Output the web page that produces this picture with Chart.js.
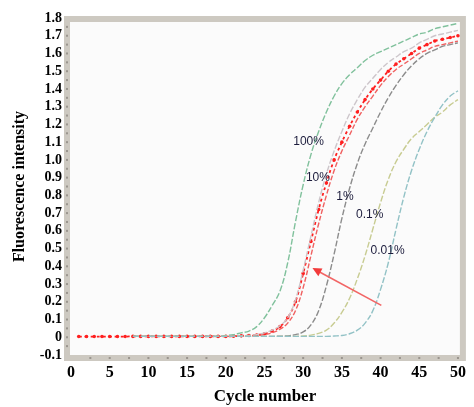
<!DOCTYPE html>
<html>
<head>
<meta charset="utf-8">
<script src="https://cdn.jsdelivr.net/npm/chart.js@4"></script>
<style>
  html, body { margin: 0; padding: 0; background: #fff; }
  #wrap { width: 474px; height: 407px; }
</style>
</head>
<body>
<div id="wrap"><canvas id="qpcrChart" width="474" height="407"></canvas></div>
<script>
// cycle numbers, one value per cycle for each curve
const cycles = [1,2,3,4,5,6,7,8,9,10,11,12,13,14,15,16,17,18,19,20,21,22,23,24,25,
  26,27,28,29,30,31,32,33,34,35,36,37,38,39,40,41,42,43,44,45,46,47,48,49,50];

const s100 = [null,null,null,null,null,null,null,0.005,0.005,0.005,0.005,0.005,0.005,0.005,0.005,0.005,0.005,0.005,0.005,0.01,0.015,0.025,0.035,0.06,0.11,
  0.18,0.26,0.42,0.65,0.86, 1.03,1.16,1.27,1.36,1.43, 1.48,1.52,1.56,1.59,1.61, 1.63,1.65,1.67,1.69,1.71, 1.72,1.74,1.75,1.76,1.77];
const s10rep = [null,null,null,null,null,null,null,0.005,0.005,0.005,0.005,0.005,0.005,0.005,0.005,0.005,0.005,0.005,0.005,0.005,0.006,0.008,0.01,0.015,0.025,
  0.04,0.065,0.11,0.21,0.38, 0.57,0.76,0.92,1.05,1.16, 1.26,1.34,1.41,1.46,1.51, 1.55,1.58,1.61,1.63,1.66, 1.68,1.70,1.71,1.72,1.73];
const s10 = [0.004,0.004,0.004,0.004,0.004,0.004,0.004,0.005,0.005,0.005,0.005,0.005,0.005,0.005,0.005,0.005,0.005,0.005,0.005,0.005,0.006,0.008,0.010,0.013,0.02,
  0.035,0.06,0.11,0.20,0.36, 0.54,0.72,0.87,1.00,1.10, 1.19,1.27,1.34,1.40,1.45, 1.50,1.54,1.57,1.60,1.63, 1.65,1.67,1.68,1.69,1.70];
const s10b = [null,null,null,null,null,null,null,0.005,0.005,0.005,0.005,0.005,0.005,0.005,0.005,0.005,0.005,0.005,0.005,0.005,0.005,0.006,0.008,0.01,0.015,
  0.025,0.045,0.08,0.15,0.28, 0.46,0.64,0.80,0.94,1.05, 1.14,1.23,1.30,1.36,1.42, 1.47,1.51,1.54,1.57,1.60, 1.62,1.64,1.65,1.66,1.67];
const s1 = [null,null,null,null,null,null,null,0.005,0.005,0.005,0.005,0.005,0.005,0.005,0.005,0.005,0.005,0.005,0.005,0.005,0.005,0.005,0.005,0.005,0.005,
  0.005,0.006,0.008,0.015,0.03, 0.07,0.15,0.29,0.47,0.67, 0.84,0.98,1.09,1.18,1.27, 1.35,1.42,1.48,1.53,1.57, 1.60,1.62,1.64,1.65,1.66];
const s01 = [null,null,null,null,null,null,null,0.005,0.005,0.005,0.005,0.005,0.005,0.005,0.005,0.005,0.005,0.005,0.005,0.005,0.005,0.005,0.005,0.005,0.005,
  0.005,0.005,0.005,0.005,0.007, 0.012,0.022,0.04,0.08,0.14, 0.22,0.33,0.46,0.61,0.76, 0.89,0.99,1.06,1.12,1.16, 1.20,1.24,1.27,1.31,1.34];
const s001 = [null,null,null,null,null,null,null,0.005,0.005,0.005,0.005,0.005,0.005,0.005,0.005,0.005,0.005,0.005,0.005,0.005,0.005,0.005,0.005,0.005,0.005,
  0.005,0.005,0.005,0.005,0.005, 0.005,0.005,0.005,0.007,0.01, 0.02,0.04,0.08,0.15,0.27, 0.42,0.61,0.79,0.94,1.06, 1.16,1.24,1.31,1.36,1.39];

const xTicks = [0,5,10,15,20,25,30,35,40,45,50];
const yTicks = [1.8,1.7,1.6,1.5,1.4,1.3,1.2,1.1,1.0,0.9,0.8,0.7,0.6,0.5,0.4,0.3,0.2,0.1,0,-0.1];
const yTickLabels = ['1.8','1.7','1.6','1.5','1.4','1.3','1.2','1.1','1.0','0.9','0.8','0.7','0.6','0.5','0.4','0.3','0.2','0.1','0','-0.1'];

// curve labels and the arrow, in data units
const curveLabels = ['100%','10%','1%','0.1%','0.01%'];
const labelX = [30.7, 31.9, 35.4, 38.6, 40.9];
const labelY = [1.10, 0.90, 0.79, 0.69, 0.49];
const arrowFrom = [40.1, 0.18];
const arrowTo = [31.2, 0.39];

const pts = vals => cycles.map((c, i) => ({x: c, y: vals[i]}));

function curve(vals, color, extra) {
  return Object.assign({
    data: pts(vals),
    borderColor: color,
    borderWidth: 1.4,
    borderDash: [6, 2],
    pointRadius: 0,
    fill: false,
    spanGaps: false,
    tension: 0.4
  }, extra || {});
}

const decor = {
  id: 'decor',
  beforeDatasetsDraw(chart) {
    const {ctx, chartArea: a} = chart;
    ctx.save();
    ctx.fillStyle = '#fbfbfb';
    ctx.fillRect(a.left, a.top, a.right - a.left, a.bottom - a.top);
    ctx.restore();
  },
  afterDatasetsDraw(chart) {
    const {ctx, chartArea: a, scales: {x, y}} = chart;
    ctx.save();
    // grey frame band
    ctx.strokeStyle = '#cdc9c1';
    ctx.lineWidth = 6;
    ctx.strokeRect(a.left - 3, a.top + 1, a.right - a.left + 6, a.bottom - a.top + 2);
    // little tick dots on the band
    ctx.fillStyle = '#9a958e';
    for (let v = -0.05; v <= 1.8; v += 0.05) {
      ctx.fillRect(a.left - 4, y.getPixelForValue(v) - 1, 2, 2);
    }
    for (let c = 2.5; c <= 50; c += 2.5) {
      ctx.fillRect(x.getPixelForValue(c) - 1, a.bottom + 2, 2, 2);
    }
    // curve labels
    ctx.fillStyle = '#1c1c3c';
    ctx.font = '12px "Liberation Sans", Arial, sans-serif';
    ctx.textAlign = 'center';
    ctx.textBaseline = 'middle';
    curveLabels.forEach((t, i) => {
      ctx.fillText(t, x.getPixelForValue(labelX[i]), y.getPixelForValue(labelY[i]));
    });
    // arrow
    const x0 = x.getPixelForValue(arrowFrom[0]), y0 = y.getPixelForValue(arrowFrom[1]);
    const x1 = x.getPixelForValue(arrowTo[0]), y1 = y.getPixelForValue(arrowTo[1]);
    const ang = Math.atan2(y1 - y0, x1 - x0);
    ctx.strokeStyle = '#f26565';
    ctx.fillStyle = '#f23b3b';
    ctx.lineWidth = 1.6;
    ctx.beginPath();
    ctx.moveTo(x0, y0);
    ctx.lineTo(x1 - 6 * Math.cos(ang), y1 - 6 * Math.sin(ang));
    ctx.stroke();
    ctx.beginPath();
    ctx.moveTo(x1, y1);
    ctx.lineTo(x1 - 10 * Math.cos(ang - 0.45), y1 - 10 * Math.sin(ang - 0.45));
    ctx.lineTo(x1 - 10 * Math.cos(ang + 0.45), y1 - 10 * Math.sin(ang + 0.45));
    ctx.closePath();
    ctx.fill();
    ctx.restore();
  }
};

const ctx = document.getElementById('qpcrChart').getContext('2d');
new Chart(ctx, {
  type: 'line',
  data: {
    datasets: [
      curve(s001, '#92c2c6'),
      curve(s01, '#c8cc92'),
      curve(s1, '#8c8c8c'),
      curve(s10rep, '#cdc6cb'),
      curve(s100, '#80c19c'),
      curve(s10b, '#f06060', {borderDash: [5, 2]}),
      curve(s10, '#ff1f1f', {
        borderWidth: 1.8,
        borderDash: [3, 3],
        pointRadius: 1.8,
        pointBackgroundColor: '#ff1f1f',
        pointBorderWidth: 0
      })
    ]
  },
  options: {
    responsive: false,
    animation: false,
    layout: { padding: { top: 18, right: 7, left: 0, bottom: 0 } },
    plugins: {
      legend: { display: false },
      tooltip: { enabled: false }
    },
    scales: {
      x: {
        type: 'linear',
        min: -0.13,
        max: 50.25,
        afterFit: s => { s.height = 52; },
        afterBuildTicks: s => { s.ticks = xTicks.map(v => ({value: v})); },
        grid: { display: false, drawTicks: false, tickLength: 0 },
        border: { display: false },
        ticks: {
          color: '#000',
          padding: 8,
          maxRotation: 0,
          autoSkip: false,
          font: { family: '"Liberation Serif", "Times New Roman", serif', size: 16, weight: 'bold' }
        },
        title: {
          display: true,
          text: 'Cycle number',
          color: '#000',
          padding: 0,
          font: { family: '"Liberation Serif", "Times New Roman", serif', size: 17, weight: 'bold' }
        }
      },
      y: {
        min: -0.1,
        max: 1.8,
        afterFit: s => { s.width = 70; },
        afterBuildTicks: s => { s.ticks = yTicks.map(v => ({value: v})); },
        grid: { display: false, drawTicks: false, tickLength: 0 },
        border: { display: false },
        ticks: {
          color: '#000',
          padding: 8,
          autoSkip: false,
          callback: (v, i) => yTickLabels[yTicks.indexOf(Math.round(v * 10) / 10)],
          font: { family: '"Liberation Serif", "Times New Roman", serif', size: 14, weight: 'bold' }
        },
        title: {
          display: true,
          text: 'Fluorescence intensity',
          color: '#000',
          padding: { top: 10, bottom: 10 },
          font: { family: '"Liberation Serif", "Times New Roman", serif', size: 16, weight: 'bold' }
        }
      }
    }
  },
  plugins: [decor]
});
</script>
</body>
</html>
